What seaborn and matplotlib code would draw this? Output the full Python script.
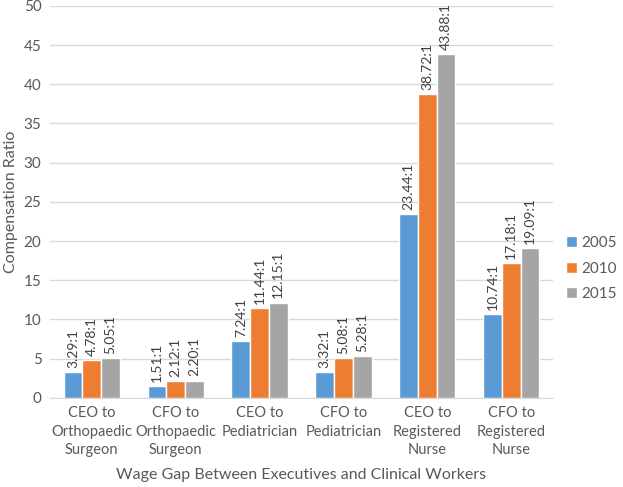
import pandas as pd
import seaborn as sns
import matplotlib.pyplot as plt

categories = ['CEO to\nOrthopaedic\nSurgeon', 'CFO to\nOrthopaedic\nSurgeon', 'CEO to\nPediatrician',
              'CFO to\nPediatrician', 'CEO to\nRegistered\nNurse', 'CFO to\nRegistered\nNurse']
years = ['2005', '2010', '2015']
ratio_2005 = [3.29, 1.51, 7.24, 3.32, 23.44, 10.74]
ratio_2010 = [4.78, 2.12, 11.44, 5.08, 38.72, 17.18]
ratio_2015 = [5.05, 2.20, 12.15, 5.28, 43.88, 19.09]
colors = ['#5B9BD5', '#ED7D31', '#A5A5A5']

df = pd.DataFrame({
    'Category': categories * 3,
    'Year': [y for y in years for _ in categories],
    'Ratio': ratio_2005 + ratio_2010 + ratio_2015,
})

sns.set_style('white')
plt.rcParams['font.family'] = ['Lato', 'DejaVu Sans']
text_color = '#595959'

fig = plt.figure(figsize=(6.23, 4.87), dpi=100)
ax = fig.add_axes([0.080, 0.183, 0.808, 0.805])
ax.yaxis.grid(True, color='#D9D9D9', linewidth=1)
ax.set_axisbelow(True)

sns.barplot(data=df, x='Category', y='Ratio', hue='Year', palette=colors,
            width=0.67, gap=0, saturation=1, ax=ax, errorbar=None)

for container in ax.containers:
    ax.bar_label(container, labels=[f'{v:.2f}:1' for v in container.datavalues],
                 rotation=90, padding=3, fontsize=10, color='#404040')

ax.set_ylim(0, 50)
ax.set_yticks(range(0, 51, 5))
ax.set_xlim(-0.5, 5.5)
ax.tick_params(axis='y', length=0, labelsize=11, labelcolor=text_color, pad=6)
ax.tick_params(axis='x', length=0, labelsize=10.5, labelcolor=text_color, pad=6)
for lbl in ax.get_xticklabels():
    lbl.set_linespacing(1.4)
ax.set_ylabel('Compensation Ratio', fontsize=11.5, color=text_color)
ax.set_xlabel('Wage Gap Between Executives and Clinical Workers', fontsize=11.5, color=text_color, labelpad=8)
for side in ['top', 'right', 'left']:
    ax.spines[side].set_visible(False)
ax.spines['bottom'].set_color('#D9D9D9')

leg = ax.legend(loc='center left', bbox_to_anchor=(1.005, 0.33), frameon=False,
                fontsize=11, handlelength=0.7, handleheight=0.7, handletextpad=0.3,
                labelspacing=0.75, borderaxespad=0.3)
for t in leg.get_texts():
    t.set_color(text_color)

fig.savefig('out.png', dpi=100)
